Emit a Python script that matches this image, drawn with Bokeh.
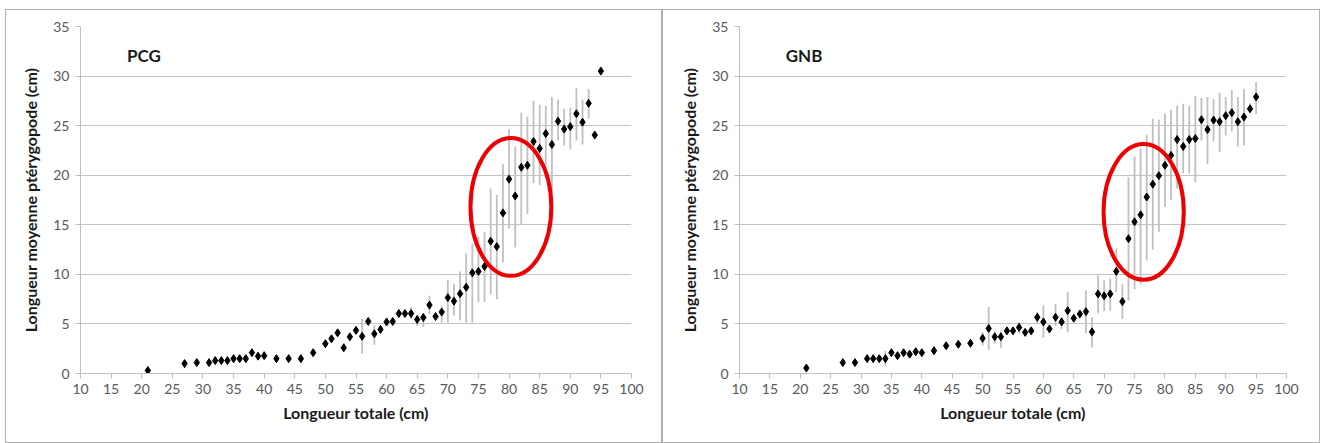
from bokeh.plotting import figure
from bokeh.layouts import row
from bokeh.models import Range1d, Label, ColumnDataSource
from bokeh.embed import file_html
from bokeh.resources import INLINE

# ---------------- data ----------------
# PCG panel
pcg_x = [21, 27, 29, 31, 32, 33, 34, 35, 36, 37, 38, 39, 40, 42, 44, 46, 48, 50, 51, 52,
         53, 54, 55, 56, 57, 58, 59, 60, 61, 62, 63, 64, 65, 66, 67, 68, 69, 70, 71, 72,
         73, 74, 75, 76, 77, 78, 79, 80, 81, 82, 83, 84, 85, 86, 87, 88, 89, 90, 91, 92,
         93, 94, 95]
pcg_y = [0.3, 1.0, 1.1, 1.1, 1.3, 1.3, 1.3, 1.5, 1.5, 1.5, 2.1, 1.75, 1.8, 1.5, 1.5, 1.5, 2.1, 3.0, 3.5, 4.1,
         2.6, 3.7, 4.35, 3.75, 5.25, 4.0, 4.45, 5.2, 5.25, 6.05, 6.05, 6.05, 5.45, 5.65, 6.9, 5.75, 6.2, 7.65, 7.3, 8.05,
         8.7, 10.15, 10.3, 10.8, 13.35, 12.8, 16.2, 19.6, 17.9, 20.8, 21.0, 23.4, 22.7, 24.2, 23.1, 25.45, 24.65, 24.9, 26.2, 25.35,
         27.25, 24.05, 30.5]
pcg_lo = [0.3, 0.6, 1.1, 1.1, 1.3, 1.3, 1.3, 1.5, 1.5, 1.5, 2.1, 1.75, 1.8, 1.5, 1.5, 1.5, 2.1, 3.0, 3.5, 4.1,
          2.6, 3.7, 4.0, 2.0, 5.25, 2.9, 4.1, 5.2, 5.25, 6.05, 6.05, 5.5, 4.8, 4.7, 6.0, 5.75, 5.15, 5.15, 5.85, 5.35,
          5.15, 5.15, 7.2, 7.2, 8.0, 7.5, 11.2, 14.6, 12.7, 15.1, 16.1, 19.2, 19.0, 21.0, 18.2, 23.5, 23.0, 22.6, 23.5, 23.1,
          25.7, 24.05, 30.5]
pcg_hi = [0.3, 1.3, 1.1, 1.1, 1.3, 1.3, 1.3, 1.5, 1.5, 1.5, 2.1, 1.75, 1.8, 1.5, 1.5, 1.5, 2.1, 3.0, 3.5, 4.1,
          2.6, 3.7, 4.7, 5.5, 5.25, 4.9, 4.8, 5.2, 5.25, 6.05, 6.05, 6.7, 5.85, 6.0, 7.85, 5.75, 6.85, 9.45, 9.05, 10.3,
          12.1, 13.1, 13.8, 14.3, 18.65, 18.0, 21.1, 24.6, 22.9, 26.3, 25.9, 27.5, 27.1, 27.0, 27.9, 27.6, 26.7, 26.8, 28.8, 27.6,
          28.7, 24.05, 30.5]

# GNB panel
gnb_x = [21, 27, 29, 31, 32, 33, 34, 35, 36, 37, 38, 39, 40, 42, 44, 46, 48, 50, 51, 52,
         53, 54, 55, 56, 57, 58, 59, 60, 61, 62, 63, 64, 65, 66, 67, 68, 69, 70, 71, 72,
         73, 74, 75, 76, 77, 78, 79, 80, 81, 82, 83, 84, 85, 86, 87, 88, 89, 90, 91, 92,
         93, 94, 95]
gnb_y = [0.55, 1.1, 1.1, 1.5, 1.5, 1.5, 1.5, 2.1, 1.8, 2.1, 1.95, 2.2, 2.1, 2.3, 2.8, 2.95, 3.05, 3.55, 4.55, 3.7,
         3.7, 4.3, 4.3, 4.65, 4.15, 4.3, 5.67, 5.2, 4.5, 5.67, 5.2, 6.34, 5.57, 6.0, 6.24, 4.2, 8.03, 7.83, 8.03, 10.3,
         7.25, 13.6, 15.3, 16.0, 17.8, 19.1, 19.95, 21.0, 22.0, 23.6, 22.9, 23.6, 23.7, 25.6, 24.6, 25.56, 25.4, 26.0, 26.3, 25.4,
         25.87, 26.7, 27.9]
gnb_lo = [0.55, 1.1, 1.1, 1.5, 1.5, 1.5, 0.8, 2.1, 1.8, 2.1, 1.95, 2.2, 2.1, 2.3, 2.8, 2.95, 3.05, 2.8, 2.4, 3.0,
          2.6, 4.3, 4.3, 4.0, 4.15, 4.3, 5.0, 3.6, 4.5, 4.8, 4.5, 4.15, 5.57, 6.0, 4.05, 2.63, 6.07, 6.27, 6.34, 8.2,
          5.5, 7.35, 8.5, 9.0, 11.4, 12.5, 14.3, 16.8, 17.5, 18.65, 20.2, 20.2, 19.3, 23.5, 21.1, 23.4, 22.35, 24.0, 24.4, 22.9,
          23.0, 26.4, 26.2]
gnb_hi = [0.55, 1.1, 1.1, 1.5, 1.5, 1.5, 2.3, 2.1, 1.8, 2.1, 1.95, 2.2, 2.1, 2.3, 2.8, 2.95, 3.05, 4.15, 6.7, 4.3,
          4.3, 4.3, 4.3, 5.2, 4.15, 4.3, 6.2, 6.85, 4.5, 7.0, 5.7, 8.2, 5.57, 6.0, 8.37, 5.67, 9.88, 9.38, 9.55, 12.6,
          9.0, 19.8, 21.9, 22.7, 24.1, 25.7, 25.6, 26.2, 26.6, 27.0, 27.2, 27.0, 28.0, 27.8, 27.9, 27.65, 28.3, 27.9, 28.6, 27.9,
          28.7, 27.25, 29.4]

panel_titles = ["PCG", "GNB"]
x_ticks = list(range(10, 101, 5))
y_ticks = list(range(0, 36, 5))
x_label = "Longueur totale (cm)"
y_label = "Longueur moyenne ptérygopode (cm)"

# highlighted zones (centre x, centre y, width, height) in data units
pcg_ellipse = [80.3, 16.8, 13.2, 13.9]
gnb_ellipse = [76.5, 16.3, 13.2, 13.7]

FONT = "Lato"


def make_panel(xs, ys, lo, hi, title, ell, width, left_border, frame_w, margin_left):
    inner_w = width - 2
    p = figure(width=width, height=434, output_backend="svg", toolbar_location=None,
               x_range=Range1d(10, 100), y_range=Range1d(0, 35),
               min_border_left=left_border, min_border_right=inner_w - left_border - frame_w,
               min_border_top=16, min_border_bottom=432 - 16 - 345,
               styles={"border": "1px solid #b0b0b0", "box-sizing": "border-box",
                       "margin-top": "9px", "margin-left": margin_left})
    p.outline_line_color = None
    p.background_fill_color = "white"
    p.border_fill_color = "white"

    p.xaxis.ticker = x_ticks
    p.yaxis.ticker = y_ticks
    for ax in (p.xaxis, p.yaxis):
        ax.axis_line_color = "#bfbfbf"
        ax.major_tick_line_color = "#bfbfbf"
        ax.major_tick_out = 5
        ax.major_tick_in = 0
        ax.minor_tick_line_color = None
        ax.major_label_text_font = FONT
        ax.major_label_text_font_size = "14px"
        ax.major_label_text_color = "#595959"
        ax.axis_label_text_font = FONT
        ax.axis_label_text_font_style = "bold"
        ax.axis_label_text_font_size = "16px"
        ax.axis_label_text_color = "#1a1a1a"
    p.xaxis.axis_label = x_label
    p.yaxis.axis_label = y_label
    p.xaxis.major_label_standoff = 5
    p.yaxis.major_label_standoff = 6
    p.xaxis.axis_label_standoff = 6
    p.yaxis.axis_label_standoff = 10

    p.xgrid.visible = False
    p.ygrid.grid_line_color = "#c4c4c4"
    p.ygrid.grid_line_width = 1

    src = ColumnDataSource(dict(x=xs, y=ys, lo=lo, hi=hi))
    p.segment(x0="x", y0="lo", x1="x", y1="hi", source=src,
              line_color="#c0c0c0", line_width=1.8)
    p.scatter(x="x", y="y", source=src, marker="diamond", size=8,
              fill_color="black", line_color="black")

    p.ellipse(x=[ell[0]], y=[ell[1]], width=[ell[2]], height=[ell[3]],
              fill_color=None, line_color="#ee0000", line_width=4)

    p.add_layout(Label(x=17.6, y=32.1, text=title, text_font=FONT,
                       text_font_style="bold", text_font_size="17px",
                       text_color="#1a1a1a", text_baseline="middle"))
    return p


p1 = make_panel(pcg_x, pcg_y, pcg_lo, pcg_hi, panel_titles[0], pcg_ellipse, 657, 74, 549, "5px")
p2 = make_panel(gnb_x, gnb_y, gnb_lo, gnb_hi, panel_titles[1], gnb_ellipse, 658, 76, 545, "0px")

layout = row(p1, p2)
open("out.html", "w").write(file_html(layout, INLINE))
